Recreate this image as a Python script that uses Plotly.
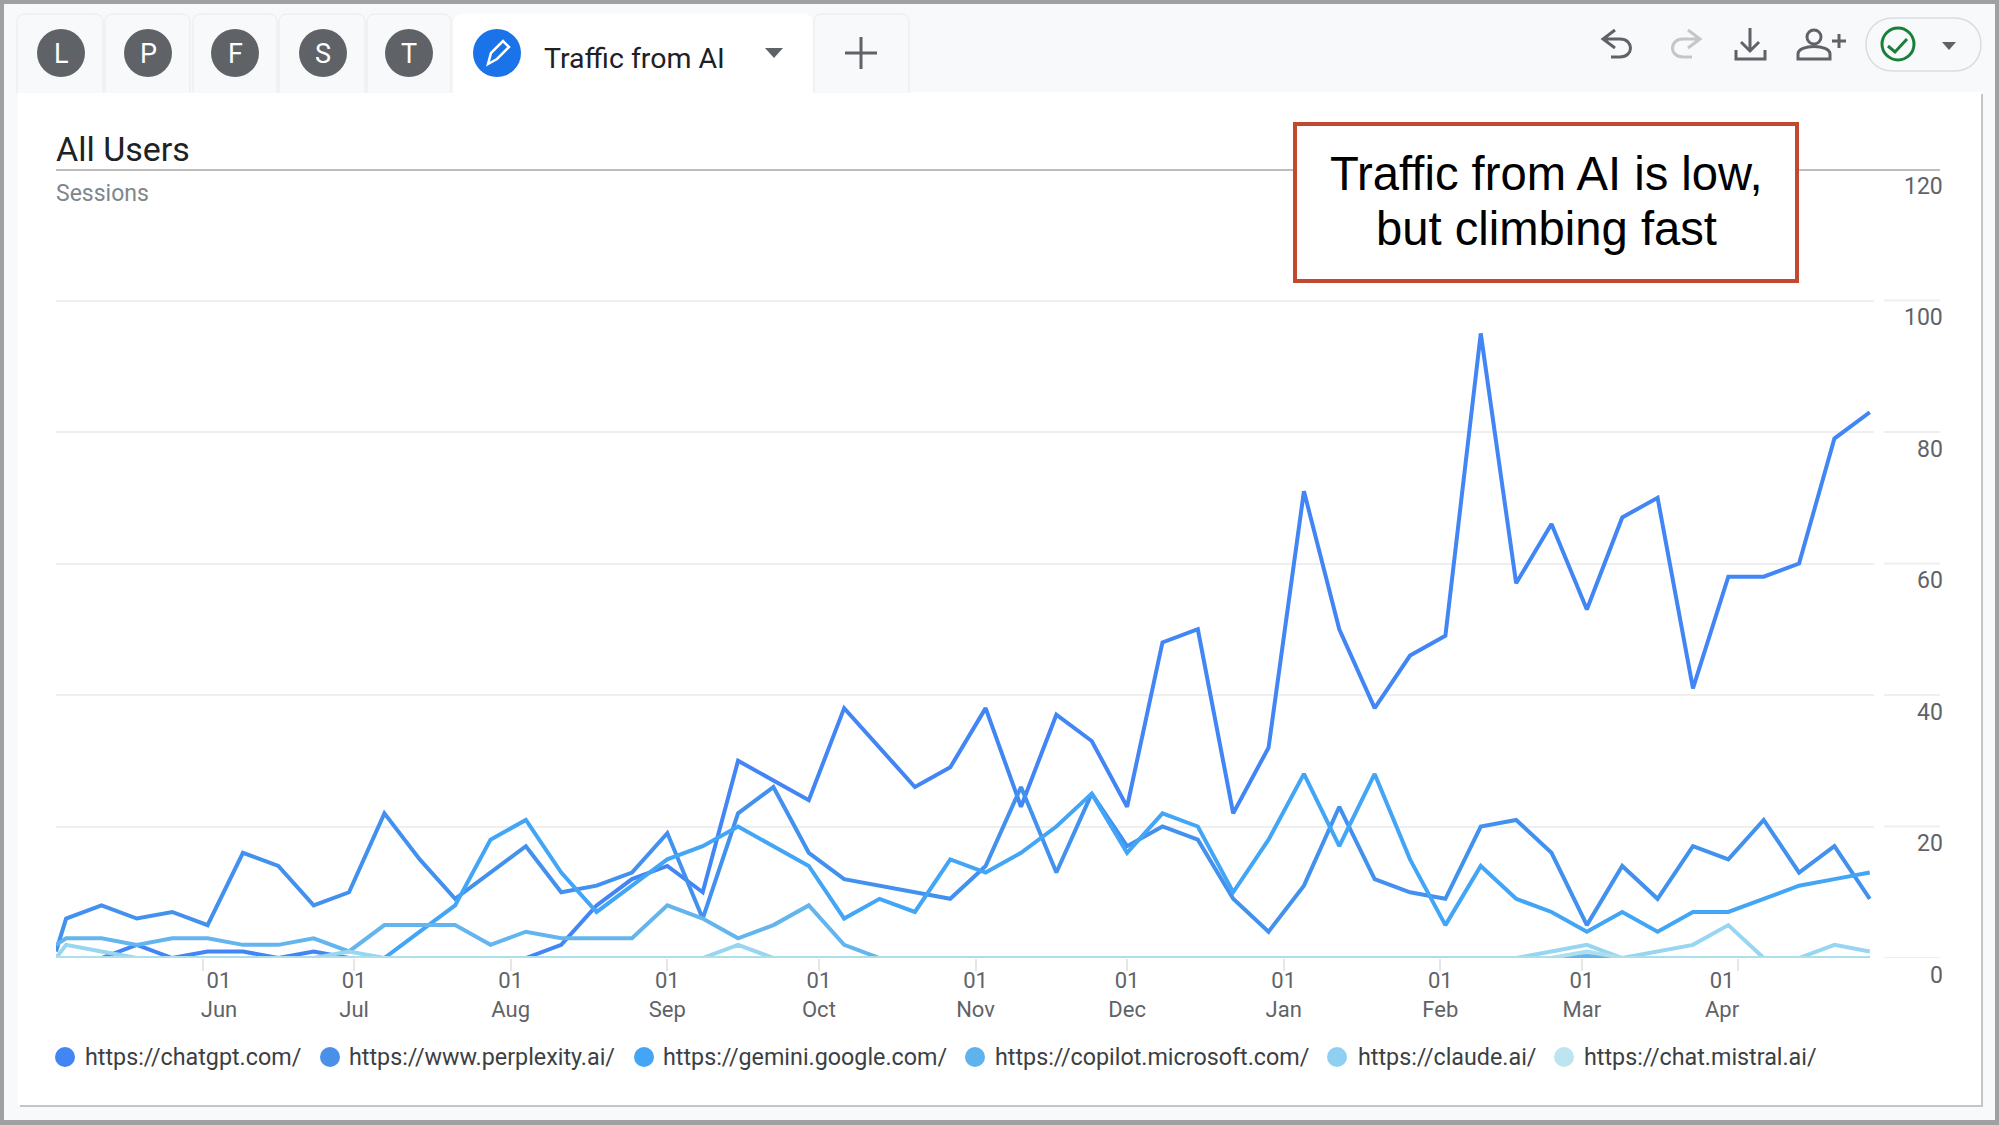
import re
import pandas as pd
import plotly.graph_objects as go

W, H = 1999, 1125

# first point is the partial week, the rest are the Sundays
week_dates = ["2024-05-03"] + [d.strftime("%Y-%m-%d") for d in pd.date_range("2024-05-05", "2025-04-27", freq="7D")]

chatgpt = [0, 0, 0, 2, 0, 1, 1, 0, 1, 0, 0, 0, 0, 0, 0, 2, 8, 12, 14, 10, 30, 27, 24, 38, 32, 26, 29,
           38, 23, 37, 33, 23, 48, 50, 22, 32, 71, 50, 38, 46, 49, 95, 57, 66, 53, 67, 70, 41, 58, 58, 60, 79, 83]
perplexity = [1, 6, 8, 6, 7, 5, 16, 14, 8, 10, 22, 15, 9, 13, 17, 10, 11, 13, 19, 6, 22, 26, 16, 12, 11, 10, 9,
              14, 26, 13, 25, 17, 20, 18, 9, 4, 11, 23, 12, 10, 9, 20, 21, 16, 5, 14, 9, 17, 15, 21, 13, 17, 9]
gemini = [0, 0, 0, 0, 0, 0, 0, 0, 0, 0, 0, 4, 8, 18, 21, 13, 7, 11, 15, 17, 20, 17, 14, 6, 9, 7, 15,
          13, 16, 20, 25, 16, 22, 20, 10, 18, 28, 17, 28, 15, 5, 14, 9, 7, 4, 7, 4, 7, 7, 9, 11, 12, 13]
copilot = [2, 3, 3, 2, 3, 3, 2, 2, 3, 1, 5, 5, 5, 2, 4, 3, 3, 3, 8, 6, 3, 5, 8, 2, 0, 0, 0,
           0, 0, 0, 0, 0, 0, 0, 0, 0, 0, 0, 0, 0, 0, 0, 0, 0, 0.3, 0, 0, 0, 0, 0, 0, 0, 0]
claude = [0, 2, 1, 0, 0, 0, 0, 0, 0, 1, 0, 0, 0, 0, 0, 0, 0, 0, 0, 0, 2, 0, 0, 0, 0, 0, 0,
          0, 0, 0, 0, 0, 0, 0, 0, 0, 0, 0, 0, 0, 0, 0, 0, 1, 2, 0, 1, 2, 5, 0, 0, 2, 1]
mistral = [0, 0, 0, 0, 0, 0, 0, 0, 0, 0, 0, 0, 0, 0, 0, 0, 0, 0, 0, 0, 0, 0, 0, 0, 0, 0, 0,
           0, 0, 0, 0, 0, 0, 0, 0, 0, 0, 0, 0, 0, 0, 0, 0, 0, 1, 0, 0, 0, 0, 0, 0, 0, 0]

series_names = ["https://chatgpt.com/", "https://www.perplexity.ai/", "https://gemini.google.com/",
                "https://copilot.microsoft.com/", "https://claude.ai/", "https://chat.mistral.ai/"]
series_values = [chatgpt, perplexity, gemini, copilot, claude, mistral]
series_colors = ["#4285f4", "#4291ee", "#42a5f5", "#64b5ee", "#98d5f0", "#aadfeb"]

month_starts = ["2024-06-01", "2024-07-01", "2024-08-01", "2024-09-01", "2024-10-01", "2024-11-01",
                "2024-12-01", "2025-01-01", "2025-02-01", "2025-03-01", "2025-04-01"]
month_labels = ["01<br>Jun", "01<br>Jul", "01<br>Aug", "01<br>Sep", "01<br>Oct", "01<br>Nov",
                "01<br>Dec", "01<br>Jan", "01<br>Feb", "01<br>Mar", "01<br>Apr"]
# Jun and Apr labels sit off their tick marks in the original
label_spots = ["2024-06-04 06:00", "2024-07-01", "2024-08-01", "2024-09-01", "2024-10-01", "2024-11-01",
               "2024-12-01", "2025-01-01", "2025-02-01", "2025-03-01", "2025-03-28 18:00"]
y_ticks = [0, 20, 40, 60, 80, 100, 120]
tab_letters = ["L", "P", "F", "S", "T"]

FONT = "Roboto, Arial, sans-serif"
GREY_ICON = "#5f6368"


def px(v):
    return v / W


def py(v):
    return 1 - v / H


def pth(s):
    # pixel path -> paper path
    out = []
    is_x = True
    for tok in re.findall(r"[MLCZ]|-?\d+\.?\d*", s):
        if tok in "MLCZ":
            out.append(tok)
            is_x = True
        else:
            out.append(str(px(float(tok)) if is_x else py(float(tok))))
            is_x = not is_x
    return " ".join(out)


shapes = []
notes = []


def path(s, fill=None, line=None, lw=0, layer="below"):
    shapes.append(dict(type="path", xref="paper", yref="paper", path=pth(s), fillcolor=fill or "rgba(0,0,0,0)",
                       line=dict(color=line or "rgba(0,0,0,0)", width=lw), layer=layer))


def rect(x0, y0, x1, y1, fill=None, line=None, lw=0, layer="below"):
    shapes.append(dict(type="rect", xref="paper", yref="paper", x0=px(x0), x1=px(x1), y0=py(y0), y1=py(y1),
                       fillcolor=fill or "rgba(0,0,0,0)", line=dict(color=line or "rgba(0,0,0,0)", width=lw), layer=layer))


def circle(cx, cy, r, fill=None, line=None, lw=0):
    shapes.append(dict(type="circle", xref="paper", yref="paper", x0=px(cx - r), x1=px(cx + r), y0=py(cy - r), y1=py(cy + r),
                       fillcolor=fill or "rgba(0,0,0,0)", line=dict(color=line or "rgba(0,0,0,0)", width=lw), layer="below"))


def hline(x0, x1, y, color, lw=2):
    rect(x0, y - lw / 2, x1, y + lw / 2, fill=color)


def note(x, y, text, size, color="#3c4043", anchor="left", family=FONT):
    notes.append(dict(xref="paper", yref="paper", x=px(x), y=py(y), text=text, showarrow=False, xanchor=anchor,
                      yanchor="middle", font=dict(family=family, size=size, color=color)))


def tab(x0, x1, fill, edge):
    path(f"M{x0} 93 L{x0} 22 C{x0} 17 {x0 + 3} 14 {x0 + 8} 14 L{x1 - 8} 14 C{x1 - 3} 14 {x1} 17 {x1} 22 L{x1} 93",
         fill=fill, line=edge, lw=1)


# window frame and card
rect(4, 4, 1995, 1120, fill="#f8f9fa")
rect(20, 94, 1983, 1107, fill="#c4c4c4")
rect(18, 92, 1981, 1105, fill="#ffffff")

# tabs
tab_spans = [(17, 103), (105, 190), (193, 277), (279, 365), (367, 451)]
tab_centers = [61, 148, 235, 323, 409]
for (x0, x1), cx, letter in zip(tab_spans, tab_centers, tab_letters):
    tab(x0, x1, "#f8f9fa", "#e8eaed")
    circle(cx, 53, 24, fill="#5f6368")
    note(cx, 54, letter, 27, color="#ffffff", anchor="center")
tab(454, 812, "#ffffff", "#ffffff")
tab(814, 909, "#f8f9fa", "#e8eaed")
circle(497, 53, 24, fill="#1a73e8")
path("M488 64 L491 53 L503 41 L509 47 L497 59 Z", line="#ffffff", lw=2.5)
note(542, 58, "Traffic from AI", 28.5, color="#202124")
path("M765 48 L783 48 L774 58 Z", fill=GREY_ICON)
hline(845, 877, 53, GREY_ICON, 3)
rect(859.5, 37, 862.5, 69, fill=GREY_ICON)

# toolbar icons
path("M1615 30 L1603 39 L1615 48 M1603 39 L1620 39 C1634 39 1634 57 1620 57 L1611 57", line=GREY_ICON, lw=3)
path("M1688 30 L1700 39 L1688 48 M1700 39 L1683 39 C1669 39 1669 57 1683 57 L1692 57", line="#c4c7c9", lw=3)
path("M1750 28 L1750 50 M1741 42 L1750 51 L1759 42 M1736 50 L1736 59 L1765 59 L1765 50", line=GREY_ICON, lw=3)
circle(1814, 37, 7, line=GREY_ICON, lw=3)
path("M1798 59 L1798 54 C1798 44 1830 44 1830 54 L1830 59 Z", line=GREY_ICON, lw=3)
path("M1832 41 L1846 41 M1839 34 L1839 48", line=GREY_ICON, lw=3)
path("M1893 18 L1954 18 C1990 18 1990 71 1954 71 L1893 71 C1857 71 1857 18 1893 18 Z", line="#dadce0", lw=1.5)
circle(1898, 44, 16, line="#188038", lw=3)
path("M1888 46 L1895 52 L1907 39", line="#188038", lw=3)
path("M1942 42 L1956 42 L1949 50 Z", fill=GREY_ICON)

# card heading
note(54, 149, "All Users", 34, color="#202124")
note(54, 193, "Sessions", 23, color="#80868b")

# grid stubs beside the plot, and the heavier top rule
for v in y_ticks[:-1]:
    shapes.append(dict(type="line", xref="paper", yref="y", x0=px(1884), x1=px(1940), y0=v, y1=v,
                       line=dict(color="#efefef", width=2), layer="below"))
hline(56, 1293, 170, "#bdbdbd", 2)
hline(1799, 1940, 170, "#bdbdbd", 2)

for v in y_ticks:
    notes.append(dict(xref="paper", yref="y", x=px(1945), y=v, yshift=-17, text=str(v), showarrow=False,
                      xanchor="right", yanchor="middle", font=dict(family=FONT, size=23, color="#5f6368")))

# callout
rect(1295, 124, 1797, 281, fill="#ffffff", line="#c0492f", lw=4, layer="above")
note(1546, 173, "Traffic from AI is low,", 47.2, color="#000000", anchor="center",
     family="Liberation Sans, Arial, sans-serif")
note(1546, 229, "but climbing fast", 47.2, color="#000000", anchor="center",
     family="Liberation Sans, Arial, sans-serif")

# legend row
legend_dots = [65, 330, 644, 975, 1337, 1564]
legend_text = [83, 347, 661, 993, 1356, 1582]
legend_colors = ["#4285f4", "#4a90e8", "#42a5f5", "#5fb3ec", "#8fd0f2", "#bce5f0"]
for name, dot, tx, color in zip(series_names, legend_dots, legend_text, legend_colors):
    circle(dot, 1057, 10, fill=color)
    note(tx, 1057, name, 23.3, color="#3c4043")

fig = go.Figure()
for name, values, color in zip(series_names, series_values, series_colors):
    fig.add_trace(go.Scatter(x=week_dates, y=values, name=name, mode="lines",
                             line=dict(color=color, width=4, shape="linear"), cliponaxis=False))

fig.update_layout(
    width=W, height=H,
    margin=dict(l=0, r=0, t=0, b=0),
    paper_bgcolor="#a0a0a0",
    plot_bgcolor="rgba(0,0,0,0)",
    showlegend=False,
    shapes=shapes,
    annotations=notes,
    font=dict(family=FONT),
    xaxis=dict(
        type="date",
        domain=[px(56), px(1874)],
        range=["2024-05-03", "2025-04-27 20:00"],
        tickmode="array",
        tickvals=label_spots,
        ticktext=month_labels,
        ticks="",
        ticklabelstandoff=7,
        showgrid=False,
        zeroline=False,
        showline=False,
        tickfont=dict(family=FONT, size=22, color="#5f6368"),
        minor=dict(tickmode="array", tickvals=month_starts, ticks="outside", ticklen=12, tickwidth=1.5,
                   tickcolor="#e6e6e6", showgrid=False),
    ),
    yaxis=dict(
        domain=[py(958), py(169)],
        range=[0, 120],
        tickmode="array",
        tickvals=y_ticks[:-1],
        showticklabels=False,
        gridcolor="#efefef",
        gridwidth=2,
        zeroline=False,
        showline=False,
    ),
)

fig.write_html("out.html", config=dict(displayModeBar=False),
               post_script="document.body.style.margin='0';document.body.style.overflow='hidden';")
